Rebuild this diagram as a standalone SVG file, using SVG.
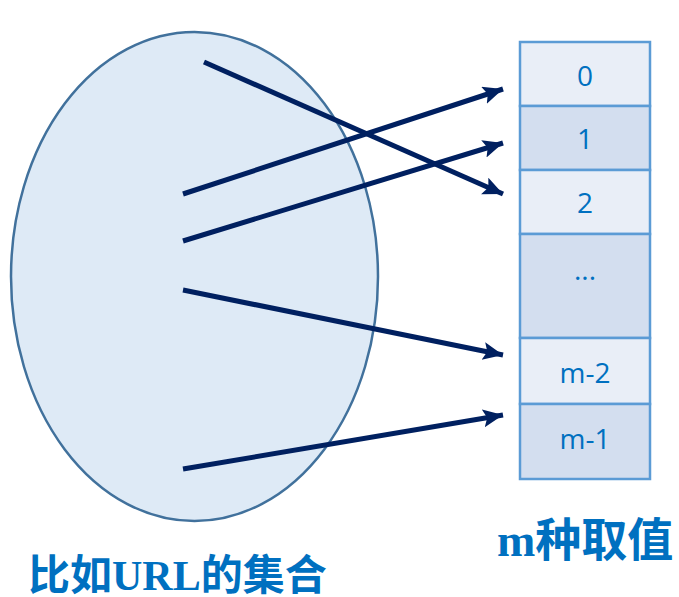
<svg xmlns="http://www.w3.org/2000/svg" width="679" height="597" viewBox="0 0 679 597">
<defs>
<style>
.cell-a{fill:#E9EEF7;stroke:#5B9BD5;stroke-width:2.5}
.cell-b{fill:#D3DEEF;stroke:#5B9BD5;stroke-width:2.5}
.num{font-family:"Open Sans","Liberation Sans",sans-serif;font-size:28px;fill:#0070C0;text-anchor:middle}
.lbl{font-family:"Liberation Serif","Noto Sans CJK SC",serif;font-weight:bold;fill:#0070C0}
.arr{stroke:#002060;stroke-width:5;fill:none;marker-end:url(#ah)}
</style>
<marker id="ah" markerUnits="userSpaceOnUse" markerWidth="24" markerHeight="20" refX="20" refY="9" orient="auto">
<path d="M0,0 L20,9 L0,18 L4,9 z" fill="#002060"/>
</marker>
</defs>
<g id="set">
<ellipse cx="194.5" cy="276.5" rx="183.5" ry="244.5" fill="#DEEAF6" stroke="#41719C" stroke-width="2.5"/>
</g>
<g id="cells">
<g id="c0"><rect class="cell-a" x="520" y="42" width="130" height="64"/><text class="num" x="585" y="86">0</text></g>
<g id="c1"><rect class="cell-b" x="520" y="106" width="130" height="64"/><text class="num" x="585" y="149">1</text></g>
<g id="c2"><rect class="cell-a" x="520" y="170" width="130" height="64"/><text class="num" x="585" y="213">2</text></g>
<g id="cdots"><rect class="cell-b" x="520" y="234" width="130" height="104"/><text class="num" x="585" y="280">...</text></g>
<g id="cm2"><rect class="cell-a" x="520" y="338" width="130" height="66"/><text class="num" x="585" y="383">m-2</text></g>
<g id="cm1"><rect class="cell-b" x="520" y="404" width="130" height="75"/><text class="num" x="585" y="449">m-1</text></g>
</g>
<g id="connectors">
<line class="arr" x1="204" y1="62" x2="503" y2="194"/>
<line class="arr" x1="183" y1="194" x2="503" y2="89"/>
<line class="arr" x1="183" y1="241" x2="503" y2="143"/>
<line class="arr" x1="183" y1="290" x2="503" y2="355"/>
<line class="arr" x1="183" y1="469" x2="503" y2="415"/>
</g>
<g id="labels">
<text class="lbl" x="28" y="590" font-size="42">比如URL的集合</text>
<text class="lbl" x="497" y="556" font-size="46">m种取值</text>
</g>
</svg>
